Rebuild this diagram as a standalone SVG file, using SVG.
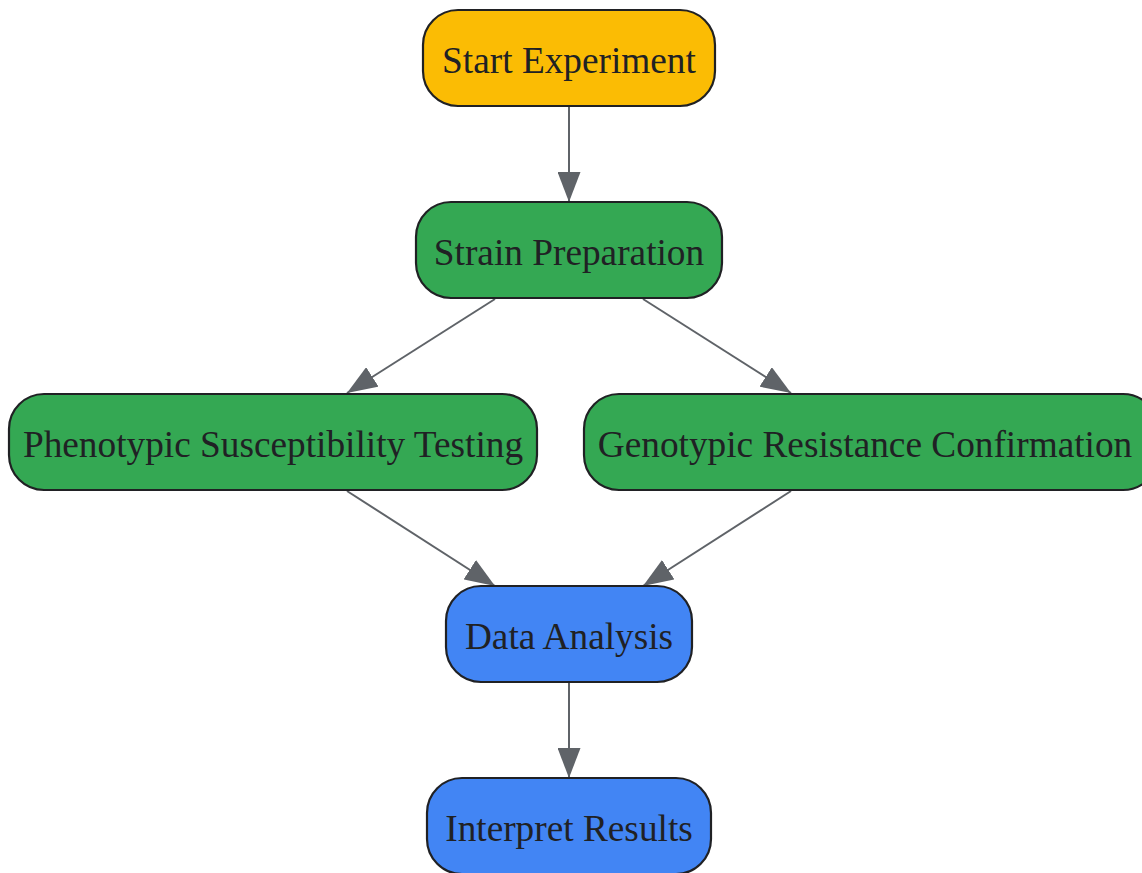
<svg xmlns="http://www.w3.org/2000/svg" width="1142" height="873" viewBox="0 0 1142 873">
<style>
.n rect{stroke:#202124;stroke-width:2.2}
.n text{font-family:"Liberation Serif","Times New Roman",serif;font-size:37.3px;fill:#202124;text-anchor:middle}
.y{fill:#FBBC04}.g{fill:#34A853}.b{fill:#4285F4}
#edges line{stroke:#5f6368;stroke-width:2;marker-end:url(#ah)}
</style>
<defs>
<marker id="ah" viewBox="0 0 30 23" refX="30" refY="11.5" markerWidth="30" markerHeight="23" markerUnits="userSpaceOnUse" orient="auto">
<path d="M0,0 L30,11.5 L0,23 Z" fill="#5f6368"/>
</marker>
</defs>
<rect width="1142" height="873" fill="#ffffff"/>
<g id="edges">
<line x1="569" y1="107" x2="569" y2="202"/>
<line x1="495" y1="299" x2="347" y2="393"/>
<line x1="643" y1="299" x2="791" y2="393"/>
<line x1="347" y1="491" x2="495" y2="586"/>
<line x1="791" y1="491" x2="643" y2="586"/>
<line x1="569" y1="683" x2="569" y2="778"/>
</g>
<g id="start" class="n"><rect class="y" x="423" y="10" width="292" height="96" rx="35"/><text x="569" y="73">Start Experiment</text></g>
<g id="strain" class="n"><rect class="g" x="416" y="202" width="306" height="96" rx="35"/><text x="569" y="265">Strain Preparation</text></g>
<g id="pheno" class="n"><rect class="g" x="9" y="394" width="528" height="96" rx="35"/><text x="273" y="457">Phenotypic Susceptibility Testing</text></g>
<g id="geno" class="n"><rect class="g" x="584" y="394" width="574" height="96" rx="35"/><text x="865" y="457">Genotypic Resistance Confirmation</text></g>
<g id="data" class="n"><rect class="b" x="446" y="586" width="246" height="96" rx="35"/><text x="569" y="649">Data Analysis</text></g>
<g id="interp" class="n"><rect class="b" x="427" y="778" width="284" height="96" rx="35"/><text x="569" y="841">Interpret Results</text></g>
</svg>
